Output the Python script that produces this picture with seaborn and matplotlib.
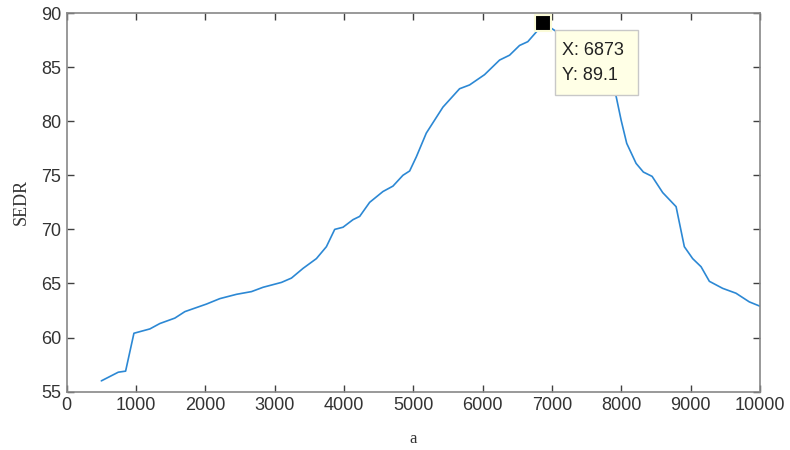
import matplotlib
matplotlib.use("Agg")
import matplotlib.pyplot as plt
import seaborn as sns
import pandas as pd
from matplotlib.patches import Rectangle

# ---- data ----
a_vals = [500, 744, 850, 970, 1200, 1344, 1560, 1705, 2017, 2209, 2450, 2666,
          2833, 3098, 3242, 3410, 3602, 3746, 3866, 3986, 4130, 4226, 4370,
          4562, 4706, 4850, 4947, 5043, 5187, 5427, 5667, 5811, 6027, 6244,
          6388, 6532, 6651, 6781, 6873, 7012, 7300, 7600, 7925, 7997, 8078,
          8213, 8318, 8444, 8597, 8790, 8909, 9029, 9150, 9270, 9462, 9654,
          9846, 10000]
sedr_vals = [56.0, 56.8, 56.9, 60.4, 60.8, 61.3, 61.8, 62.4, 63.1, 63.6, 64.0,
             64.25, 64.65, 65.1, 65.5, 66.4, 67.3, 68.4, 70.0, 70.2, 70.9,
             71.2, 72.5, 73.5, 74.0, 75.0, 75.4, 76.7, 78.9, 81.3, 83.0, 83.35,
             84.3, 85.65, 86.1, 87.0, 87.35, 88.3, 89.1, 88.5, 87.3, 85.6,
             82.3, 80.1, 77.95, 76.1, 75.3, 74.9, 73.4, 72.1, 68.4, 67.3,
             66.55, 65.2, 64.55, 64.1, 63.3, 62.9]
x_ticks = [0, 1000, 2000, 3000, 4000, 5000, 6000, 7000, 8000, 9000, 10000]
y_ticks = [55, 60, 65, 70, 75, 80, 85, 90]
tip_x = 6873
tip_y = 89.1
tip_text = "X: 6873\nY: 89.1"

df = pd.DataFrame({"a": a_vals, "SEDR": sedr_vals})

sns.set_theme(style="white")
plt.rcParams["font.family"] = ["Liberation Sans", "DejaVu Sans"]

fig = plt.figure(figsize=(7.9, 4.5), dpi=100)
ax = fig.add_axes([0.0844, 0.1296, 0.8776, 0.8415])

sns.lineplot(data=df, x="a", y="SEDR", ax=ax, color="#2c88d4", linewidth=1.2,
             zorder=2)

ax.set_xlim(0, 10000)
ax.set_ylim(55, 90)
ax.set_xticks(x_ticks)
ax.set_yticks(y_ticks)
ax.tick_params(direction="in", length=5, width=1, color="#404040",
               labelcolor="#333333", labelsize=13, top=True, right=True,
               bottom=True, left=True, pad=4)
for s in ax.spines.values():
    s.set_color("#888888")
    s.set_linewidth(1.2)
    s.set_visible(True)

ax.set_xlabel("a", family=["Liberation Serif", "DejaVu Serif"], fontsize=12,
              color="#333333", labelpad=12)
ax.set_ylabel("SEDR", family=["Liberation Serif", "DejaVu Serif"], fontsize=13,
              color="#333333", labelpad=8)

# data tip marker
ax.plot([tip_x], [tip_y], marker="s", markersize=11, color="black",
        markeredgecolor="#fbfbd8", markeredgewidth=1.5, zorder=5,
        clip_on=False)

# data tip box
box = Rectangle((0.704, 0.783), 0.120, 0.172, transform=ax.transAxes,
                facecolor="#ffffe6", edgecolor="#c8c8c8", linewidth=1,
                zorder=4)
ax.add_patch(box)
lines = tip_text.split("\n")
ax.text(0.714, 0.900, lines[0], transform=ax.transAxes, fontsize=13,
        color="#222222", va="center", ha="left", zorder=6)
ax.text(0.714, 0.834, lines[1], transform=ax.transAxes, fontsize=13,
        color="#222222", va="center", ha="left", zorder=6)

fig.savefig("out.png", dpi=100)
